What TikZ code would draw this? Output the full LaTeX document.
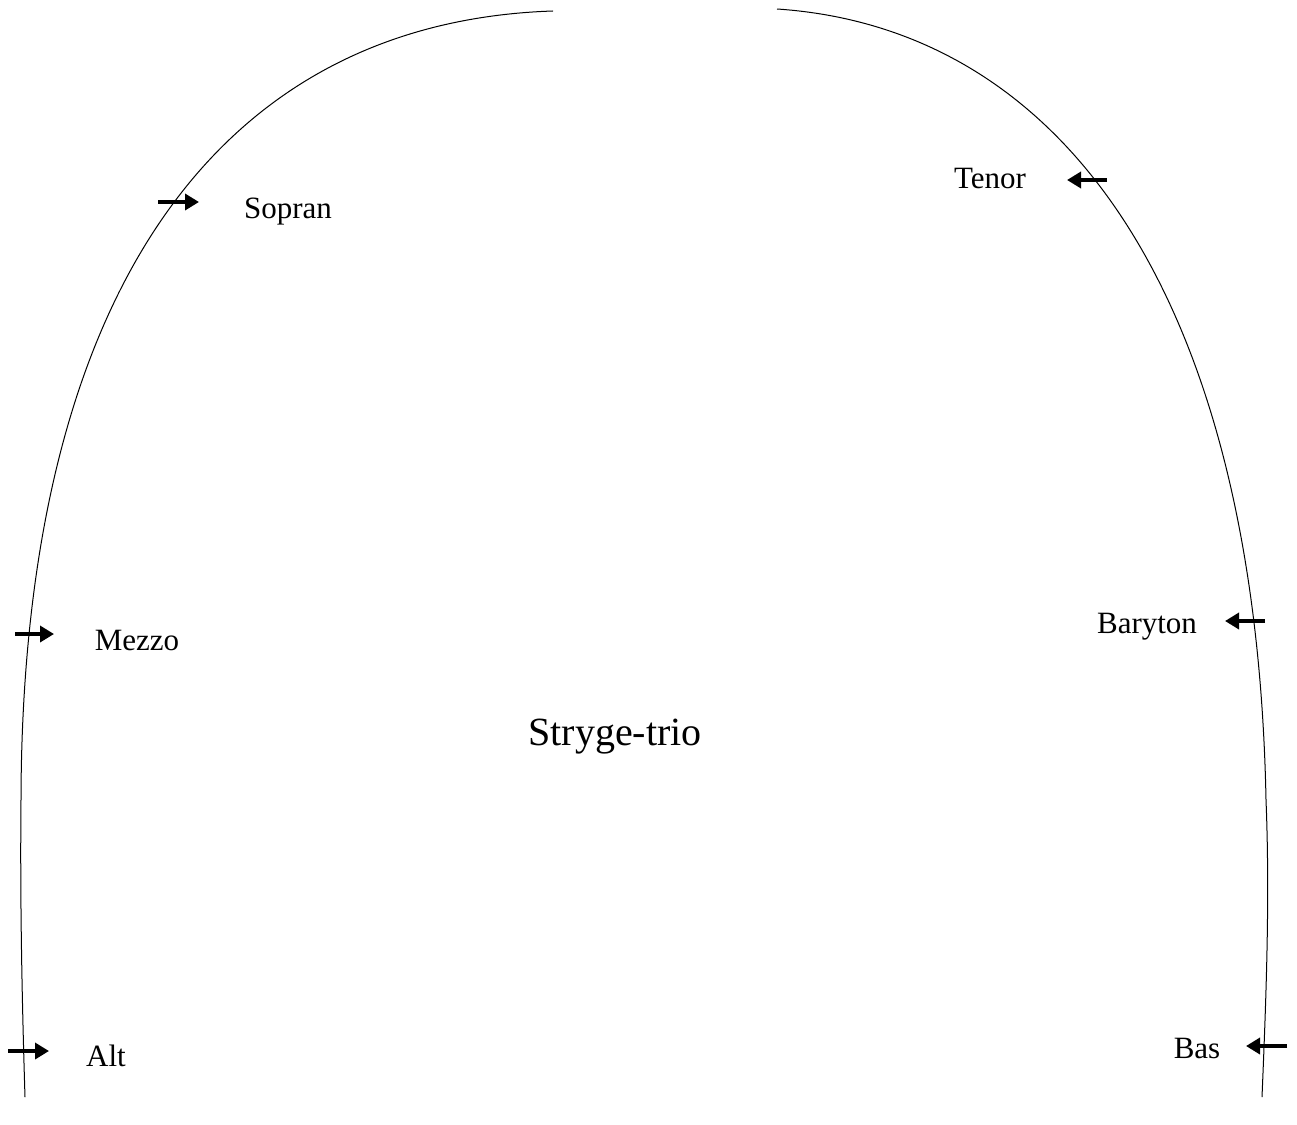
\documentclass[tikz,border=0pt]{standalone}
\usepackage{fontspec}
\setmainfont{Liberation Serif}
\usetikzlibrary{arrows.meta}
\begin{document}
\begin{tikzpicture}[x=1pt,y=-1pt,
  wall/.style={line width=1pt},
  voice/.style={line width=3.5pt,-{Triangle[length=14pt,width=16pt]}},
  lbl/.style={inner sep=0pt,font=\fontsize{31}{37}\selectfont},
  ttl/.style={inner sep=0pt,font=\fontsize{40}{48}\selectfont}]
\useasboundingbox (0,0) rectangle (1297,1124);
% walls
\draw[wall] (553,11) .. controls (220,22) and (22,290) .. (21,800) .. controls (20,900) and (22,1000) .. (25,1097);
\draw[wall] (777,9) .. controls (1060,28) and (1256,290) .. (1266,800) .. controls (1270,900) and (1266,1000) .. (1262,1097);
% labels
\node[lbl] (sopran) at (288,212) {Sopran};
\node[lbl] (tenor) at (990,179) {Tenor};
\node[lbl] (mezzo) at (137,640) {Mezzo};
\node[lbl] (baryton) at (1147,627) {Baryton};
\node[lbl] (alt) at (106,1056) {Alt};
\node[lbl] (bas) at (1197,1048) {Bas};
\node[ttl] (title) at (615,737) {Stryge-trio};
% arrows
\coordinate (s1) at (158,202); \coordinate (s2) at (199,202);
\coordinate (t1) at (1107,180); \coordinate (t2) at (1067,180);
\coordinate (m1) at (15,634); \coordinate (m2) at (54,634);
\coordinate (b1) at (1265,621); \coordinate (b2) at (1225,621);
\coordinate (a1) at (8,1051); \coordinate (a2) at (49,1051);
\coordinate (z1) at (1287,1046); \coordinate (z2) at (1246,1046);
\draw[voice] (s1) -- (s2);
\draw[voice] (t1) -- (t2);
\draw[voice] (m1) -- (m2);
\draw[voice] (b1) -- (b2);
\draw[voice] (a1) -- (a2);
\draw[voice] (z1) -- (z2);
\end{tikzpicture}
\end{document}
